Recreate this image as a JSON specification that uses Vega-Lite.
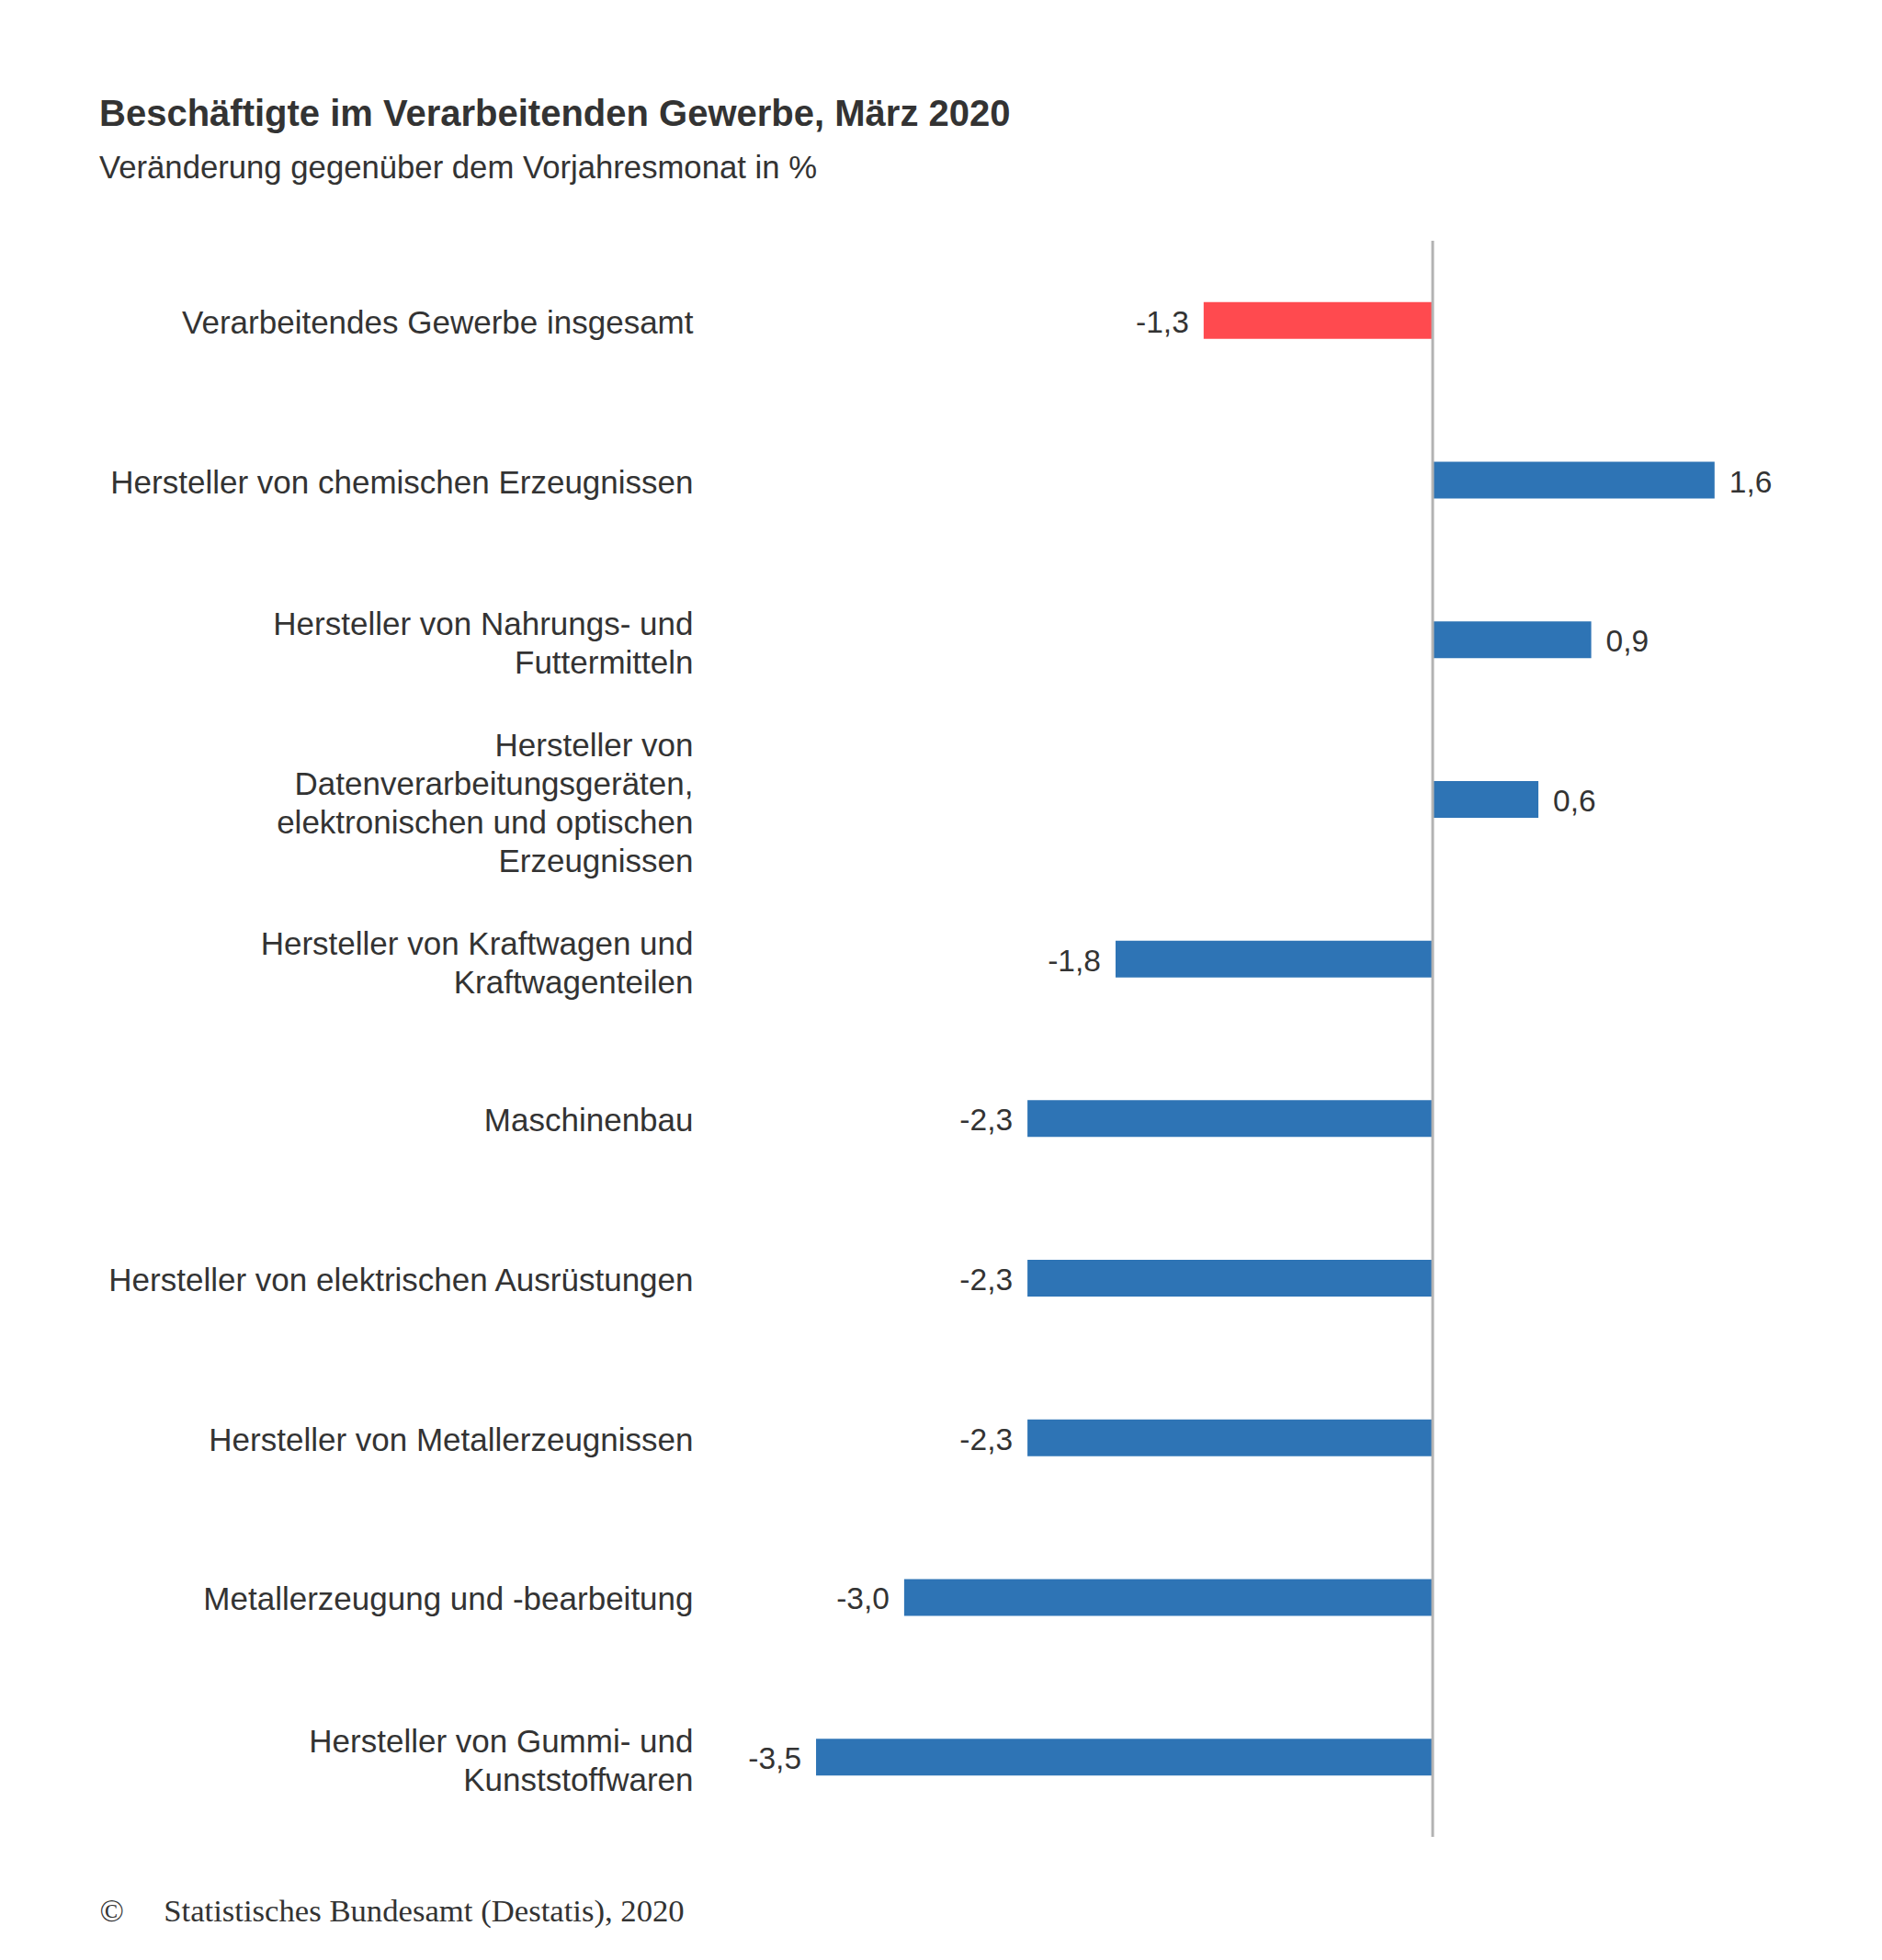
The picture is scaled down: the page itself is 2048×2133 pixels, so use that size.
{
  "$schema": "https://vega.github.io/schema/vega-lite/v6.json",
  "width": 1227,
  "height": 1737,
  "autosize": {"type": "none"},
  "padding": {"left": 773, "top": 262, "right": 48, "bottom": 134},
  "background": "white",
  "config": {
    "view": {"stroke": null},
    "font": "Liberation Sans",
    "locale": {"number": {"decimal": ",", "thousands": ".", "grouping": [3], "currency": ["", " €"], "minus": "-"}}
  },
  "title": {
    "text": "Beschäftigte im Verarbeitenden Gewerbe, März 2020",
    "subtitle": "Veränderung gegenüber dem Vorjahresmonat in %",
    "anchor": "start",
    "frame": "group",
    "dx": -665,
    "offset": 60,
    "font": "Liberation Sans",
    "fontSize": 40,
    "fontWeight": "bold",
    "color": "#333333",
    "subtitleFont": "Liberation Sans",
    "subtitleFontSize": 34.7,
    "subtitleColor": "#333333",
    "subtitlePadding": 22
  },
  "data": {
    "values": [
      {"kategorie": "Verarbeitendes Gewerbe insgesamt", "wert": -1.3, "typ": "gesamt"},
      {"kategorie": "Hersteller von chemischen Erzeugnissen", "wert": 1.6, "typ": "branche"},
      {"kategorie": "Hersteller von Nahrungs- und\nFuttermitteln", "wert": 0.9, "typ": "branche"},
      {"kategorie": "Hersteller von\nDatenverarbeitungsgeräten,\nelektronischen und optischen\nErzeugnissen", "wert": 0.6, "typ": "branche"},
      {"kategorie": "Hersteller von Kraftwagen und\nKraftwagenteilen", "wert": -1.8, "typ": "branche"},
      {"kategorie": "Maschinenbau", "wert": -2.3, "typ": "branche"},
      {"kategorie": "Hersteller von elektrischen Ausrüstungen", "wert": -2.3, "typ": "branche"},
      {"kategorie": "Hersteller von Metallerzeugnissen", "wert": -2.3, "typ": "branche"},
      {"kategorie": "Metallerzeugung und -bearbeitung", "wert": -3.0, "typ": "branche"},
      {"kategorie": "Hersteller von Gummi- und\nKunststoffwaren", "wert": -3.5, "typ": "branche"}
    ]
  },
  "layer": [
    {
      "mark": {"type": "bar"},
      "encoding": {
        "y": {
          "field": "kategorie", "type": "nominal", "sort": null,
          "scale": {"paddingInner": 0.77, "paddingOuter": 0.385},
          "axis": {
            "title": null, "ticks": false, "domain": false, "labelPadding": 19, "labelFontSize": 35, "labelColor": "#333333", "labelLimit": 900, "labelLineHeight": 42,
            "labelExpr": "split(datum.label, '\\n')",
            "labelOffset": {"condition": [
              {"test": "length(split(datum.value, '\\n')) == 4", "value": -58},
              {"test": "length(split(datum.value, '\\n')) == 2", "value": -16}
            ], "value": 3}
          }
        },
        "x": {
          "field": "wert", "type": "quantitative",
          "scale": {"domain": [-4.1, 2.3], "nice": false, "zero": false},
          "axis": {"labels": false, "ticks": false, "domain": false, "grid": false, "title": "© \u00a0\u00a0\u00a0\u00a0Statistisches Bundesamt (Destatis), 2020", "titleFont": "Liberation Serif", "titleFontSize": 34.7, "titleFontWeight": "normal", "titleColor": "#333333", "titleX": -665, "titleY": 91, "titleAlign": "left", "titleAnchor": "start", "titleBaseline": "alphabetic"}
        },
        "color": {"field": "typ", "type": "nominal", "scale": {"domain": ["gesamt", "branche"], "range": ["#FF4A4F", "#2E74B5"]}, "legend": null}
      }
    },
    {
      "mark": {"type": "text", "baseline": "middle", "fontSize": 33.5, "color": "#333333", "dy": 3, "align": {"expr": "datum.wert < 0 ? 'right' : 'left'"}, "dx": {"expr": "datum.wert < 0 ? -16 : 16"}},
      "encoding": {
        "y": {"field": "kategorie", "type": "nominal", "sort": null},
        "x": {"field": "wert", "type": "quantitative"},
        "text": {"field": "wert", "type": "quantitative", "format": ".1f"}
      }
    },
    {
      "data": {"values": [{}]},
      "mark": {"type": "rule", "color": "#b3b3b3", "strokeWidth": 3},
      "encoding": {"x": {"datum": 0}}
    }
  ]
}
